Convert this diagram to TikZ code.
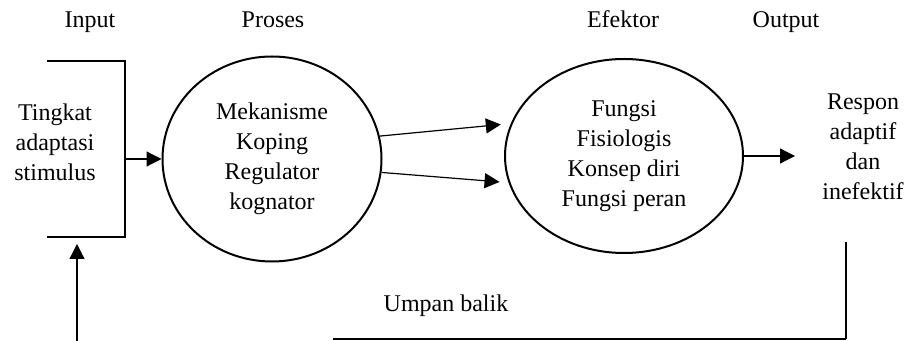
\documentclass[tikz,border=0pt]{standalone}
\usepackage{fontspec}
\setmainfont{Liberation Serif}
\usetikzlibrary{shapes.geometric,arrows.meta,calc}
\begin{document}
\begin{tikzpicture}[x=0.5pt,y=-0.5pt,
  txt/.style={font=\fontsize{12}{15}\selectfont, align=center, inner sep=0pt},
  oval/.style={ellipse, draw, line width=1pt, inner sep=0pt, font=\fontsize{12}{15}\selectfont, align=center},
  arr/.style={-{Triangle[length=7.5pt,width=7.5pt]}, line width=0.6pt},
  heavy/.style={line width=1pt}]
\useasboundingbox (0,0) rectangle (915,341);
% titles
\node[txt, anchor=base] (tIn) at (90,28) {Input};
\node[txt, anchor=base] (tPr) at (273,28) {Proses};
\node[txt, anchor=base] (tEf) at (623,28) {Efektor};
\node[txt, anchor=base] (tOut) at (786,28) {Output};
% input bracket
\node[minimum width=39pt, minimum height=88pt, inner sep=0pt, outer sep=0pt] (box) at (86,149) {};
\draw[heavy] (box.north west) -- (box.north east) -- (box.south east) -- (box.south west);
\node[txt] (stim) at (55,142) {Tingkat\\adaptasi\\stimulus};
% process and effector
\node[oval, minimum width=109.5pt, minimum height=102.5pt] (p) at (272,159) {Mekanisme\\Koping\\Regulator\\kognator};
\node[oval, minimum width=119pt, minimum height=97pt] (e) at (624,156) {Fungsi\\Fisiologis\\Konsep diri\\Fungsi peran};
% output text
\node[txt] (out) at (863,147) {Respon\\adaptif\\dan\\inefektif};
% arrows
\draw[arr] (p.west -| box.east) -- (p.west);
\draw[arr, shorten >=5pt] (p.12) -- (e.164);
\draw[arr, shorten >=4.5pt] (p.-7) -- (e.193);
\coordinate (otip) at (795,156);
\draw[arr] (e.east) -- (otip);
% feedback
\coordinate (f1) at (846,242);
\coordinate (f2) at (846,339);
\coordinate (f3) at (333,339);
\draw[heavy] (f1) -- (f2);
\draw[line width=0.6pt] (f2) -- (f3);
\coordinate (fb) at (77,341);
\draw[arr, shorten >=3.5pt] (fb) -- (fb |- box.south);
\node[txt, anchor=base] (ub) at (446,312) {Umpan balik};
\end{tikzpicture}
\end{document}
